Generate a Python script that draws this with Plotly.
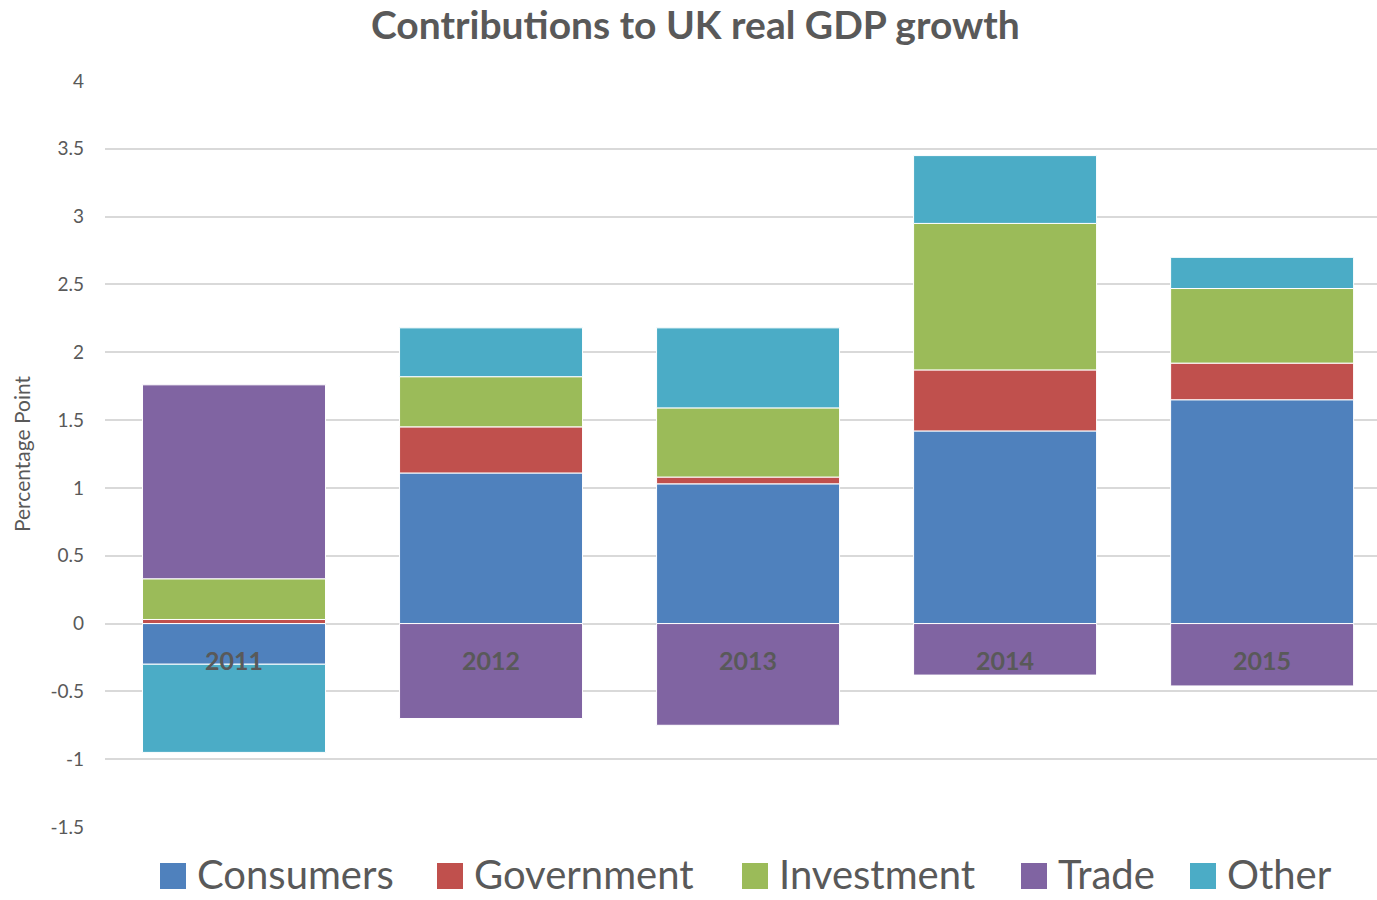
import plotly.graph_objects as go

# Contributions to UK real GDP growth, percentage points
years = ["2011", "2012", "2013", "2014", "2015"]
consumers = [-0.30, 1.11, 1.03, 1.42, 1.65]
government = [0.03, 0.34, 0.05, 0.45, 0.27]
investment = [0.30, 0.37, 0.51, 1.08, 0.55]
trade = [1.43, -0.70, -0.75, -0.38, -0.46]
other = [-0.65, 0.36, 0.59, 0.50, 0.23]

series_names = ["Consumers", "Government", "Investment", "Trade", "Other"]
series_values = [consumers, government, investment, trade, other]
series_colors = ["#4F81BD", "#C0504D", "#9BBB59", "#8064A2", "#4BACC6"]

y_ticks = [4, 3.5, 3, 2.5, 2, 1.5, 1, 0.5, 0, -0.5, -1, -1.5]
y_tick_text = ["4", "3.5", "3", "2.5", "2", "1.5", "1", "0.5", "0", "-0.5", "-1", "-1.5"]

FONT = "Lato"
GREY = "#595959"

W, H = 1377, 900
M_L, M_R, M_T, M_B = 105, 0, 81, 73
PW, PH = W - M_L - M_R, H - M_T - M_B


def px_x(px):
    return (px - M_L) / PW


def px_y(py):
    return (H - M_B - py) / PH


fig = go.Figure()
x_idx = list(range(len(years)))
for name, vals, color in zip(series_names, series_values, series_colors):
    fig.add_trace(go.Bar(
        x=x_idx, y=vals, name=name,
        marker=dict(color=color, line=dict(color="white", width=1)),
        showlegend=False,
    ))

# year labels sit just under the zero line
for i, yr in enumerate(years):
    fig.add_annotation(x=i, y=0, text=f"<b>{yr}</b>", showarrow=False, yanchor="middle", yshift=-36,
                       font=dict(family=FONT, size=25, color=GREY))

# legend row below the plot: large square keys followed by the series name
legend_key_left = [160, 437, 742, 1021, 1190]
key_size = 26
legend_mid = 874
for name, color, kx in zip(series_names, series_colors, legend_key_left):
    fig.add_shape(type="rect", xref="paper", yref="paper",
                  x0=px_x(kx), x1=px_x(kx + key_size),
                  y0=px_y(legend_mid + 2 + key_size / 2), y1=px_y(legend_mid + 2 - key_size / 2),
                  fillcolor=color, line=dict(width=0))
    fig.add_annotation(xref="paper", yref="paper", x=px_x(kx + key_size + 10), y=px_y(legend_mid),
                       xanchor="left", yanchor="middle", text=name, showarrow=False,
                       borderpad=0,
                       font=dict(family=FONT, size=40, color=GREY))

fig.update_layout(
    barmode="relative",
    bargap=0.288,
    width=W, height=H,
    margin=dict(l=M_L, r=M_R, t=M_T, b=M_B, autoexpand=False),
    paper_bgcolor="white", plot_bgcolor="white",
    font=dict(family=FONT, color=GREY),
    showlegend=False,
    title=dict(text="<b>Contributions to UK real GDP growth</b>", x=0.505, xanchor="center",
               y=1 - 25 / H, yanchor="middle",
               font=dict(family=FONT, size=39, color=GREY)),
    xaxis=dict(range=[-0.502, 4.447], showticklabels=False, showgrid=False,
               zeroline=False, showline=False, ticks=""),
    yaxis=dict(range=[-1.5, 4], tickvals=y_ticks, ticktext=y_tick_text,
               showgrid=True, gridcolor="#D9D9D9", gridwidth=1.5,
               zeroline=True, zerolinecolor="#D9D9D9", zerolinewidth=1.5,
               tickfont=dict(family=FONT, size=19, color=GREY),
               ticklabelstandoff=20,
               title=dict(text="Percentage Point", standoff=14,
                          font=dict(family=FONT, size=21, color=GREY))),
)

fig.write_html("out.html")
